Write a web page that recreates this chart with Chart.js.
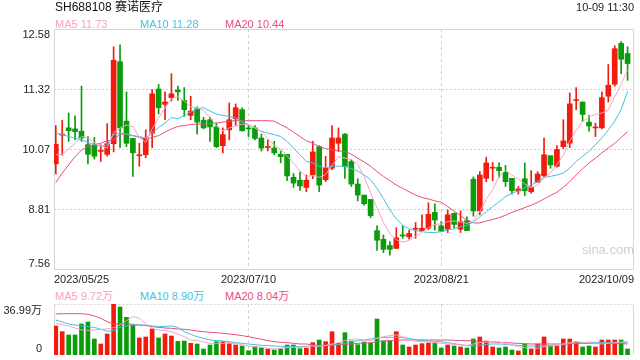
<!DOCTYPE html>
<html lang="zh">
<head>
<meta charset="UTF-8" />
<title>SH688108 赛诺医疗</title>
<script src="https://cdn.jsdelivr.net/npm/chart.js@4.4.0/dist/chart.umd.min.js"></script>
<style>
  body { margin: 0; width: 640px; height: 360px; background: #fff; position: relative; overflow: hidden;
         font-family: "Liberation Sans", Arial, "Noto Sans CJK SC", sans-serif; }
  .txt { position: absolute; white-space: nowrap; font-size: 11px; line-height: 12px; }
  canvas { position: absolute; left: 0; }
</style>
</head>
<body>
<canvas id="kChart" width="640" height="290" style="top:0"></canvas>
<canvas id="volChart" width="640" height="58" style="top:302px"></canvas>

<div class="txt" style="left:55px;top:0px;font-size:12px;line-height:14px;color:#111">SH688108 赛诺医疗</div>
<div class="txt" style="right:6px;top:1px;color:#222">10-09 11:30</div>
<div class="txt" id="lgMa5" style="left:55px;top:18px;color:#f8a2c0"></div>
<div class="txt" id="lgMa10" style="left:140px;top:18px;color:#41c2e2"></div>
<div class="txt" id="lgMa20" style="left:225px;top:18px;color:#e94c7e"></div>
<div class="txt" id="lgVma5" style="left:55px;top:290px;color:#f8a2c0"></div>
<div class="txt" id="lgVma10" style="left:140px;top:290px;color:#41c2e2"></div>
<div class="txt" id="lgVma20" style="left:225px;top:290px;color:#e94c7e"></div>
<div class="txt" style="left:582px;top:243px;font-size:13px;line-height:14px;color:#cfcfcf">sina.com</div>

<script>
// trading days 2023/05/25 .. 2023/10/09
const dates = [
  '2023/05/25','2023/05/26','2023/05/29','2023/05/30','2023/05/31',
  '2023/06/01','2023/06/02','2023/06/05','2023/06/06','2023/06/07','2023/06/08','2023/06/09',
  '2023/06/12','2023/06/13','2023/06/14','2023/06/15','2023/06/16','2023/06/19','2023/06/20',
  '2023/06/21','2023/06/26','2023/06/27','2023/06/28','2023/06/29','2023/06/30',
  '2023/07/03','2023/07/04','2023/07/05','2023/07/06','2023/07/07','2023/07/10','2023/07/11',
  '2023/07/12','2023/07/13','2023/07/14','2023/07/17','2023/07/18','2023/07/19','2023/07/20',
  '2023/07/21','2023/07/24','2023/07/25','2023/07/26','2023/07/27','2023/07/28','2023/07/31',
  '2023/08/01','2023/08/02','2023/08/03','2023/08/04','2023/08/07','2023/08/08','2023/08/09',
  '2023/08/10','2023/08/11','2023/08/14','2023/08/15','2023/08/16','2023/08/17','2023/08/18',
  '2023/08/21','2023/08/22','2023/08/23','2023/08/24','2023/08/25','2023/08/28','2023/08/29',
  '2023/08/30','2023/08/31','2023/09/01','2023/09/04','2023/09/05','2023/09/06','2023/09/07',
  '2023/09/08','2023/09/11','2023/09/12','2023/09/13','2023/09/14','2023/09/15','2023/09/18',
  '2023/09/19','2023/09/20','2023/09/21','2023/09/22','2023/09/25','2023/09/26','2023/09/27',
  '2023/09/28','2023/10/09'
];
const openP = [9.77,10.37,10.52,10.50,10.45,10.17,10.16,10.03,9.97,10.19,
  11.90,10.66,10.30,9.94,9.96,10.41,11.33,11.01,11.15,11.31,
  11.09,10.78,10.92,10.68,10.69,10.54,10.15,10.48,10.71,10.90,
  10.51,10.52,10.31,10.11,10.10,9.97,9.97,9.49,9.43,9.28,
  9.54,10.13,9.44,9.68,10.20,10.39,9.82,9.35,9.12,9.03,
  8.38,8.20,8.07,8.01,8.28,8.25,8.41,8.38,8.43,8.76,
  8.48,8.41,8.74,8.41,8.59,9.45,8.79,9.47,9.68,9.70,
  9.60,9.47,9.21,9.46,9.19,9.39,9.52,9.94,9.72,10.13,
  10.20,11.09,11.06,10.64,10.52,10.52,11.18,11.43,12.28,12.07];
const highP = [10.57,10.68,10.83,10.77,11.39,10.34,10.32,10.17,10.61,12.21,
  12.25,11.27,10.30,10.20,10.48,11.32,11.43,11.27,11.65,11.39,
  11.36,11.18,10.96,10.74,10.74,10.62,10.52,11.04,11.02,10.94,
  10.57,10.57,10.39,10.27,10.24,10.04,9.97,9.57,9.60,9.54,
  10.24,10.15,9.93,10.57,10.52,10.40,9.86,9.46,9.12,9.03,
  8.48,8.29,8.15,8.44,8.48,8.39,8.55,8.71,8.96,8.94,
  8.57,8.81,8.75,8.79,8.67,9.50,9.61,9.91,9.80,9.79,
  9.74,9.47,9.30,9.79,9.63,9.61,10.31,9.94,10.15,10.69,
  11.25,11.36,11.06,10.78,10.62,11.27,11.84,12.23,12.32,12.21];
const lowP = [9.56,9.95,10.24,10.27,10.24,9.77,9.87,9.82,9.93,10.02,
  10.11,10.13,9.51,9.72,9.90,10.11,10.81,10.69,11.08,11.09,
  10.76,10.69,10.39,10.50,10.24,10.11,10.00,10.27,10.57,10.45,
  10.34,10.27,10.04,10.04,9.96,9.79,9.42,9.28,9.22,9.19,
  9.46,9.19,9.40,9.65,10.03,9.47,9.30,9.00,8.91,8.65,
  7.97,7.92,7.87,8.01,8.22,8.20,8.22,8.38,8.40,8.39,
  8.36,8.34,8.44,8.34,8.38,8.68,8.71,9.40,9.42,9.49,
  9.30,9.14,9.14,9.11,9.16,9.39,9.51,9.68,9.70,10.09,
  10.11,10.90,10.66,10.45,10.34,10.50,11.06,11.39,11.65,11.51];
const closeP = [10.18,10.38,10.46,10.44,10.31,9.97,9.93,10.04,10.19,11.93,
  10.52,10.20,10.00,9.95,10.31,11.23,10.94,11.06,11.23,11.27,
  10.90,10.87,10.64,10.52,10.54,10.13,10.38,10.69,10.94,10.46,
  10.50,10.30,10.10,10.12,10.00,9.92,9.52,9.37,9.31,9.43,
  10.02,9.33,9.68,10.31,10.31,9.72,9.35,9.12,8.94,8.69,
  8.18,7.99,7.99,8.23,8.27,8.32,8.42,8.43,8.72,8.60,
  8.37,8.71,8.51,8.57,8.38,8.79,9.54,9.79,9.69,9.63,
  9.40,9.21,9.25,9.21,9.28,9.56,9.96,9.75,10.07,10.25,
  11.02,11.10,10.80,10.56,10.53,11.15,11.41,12.17,11.95,11.86];
const ma5 = [9.96,9.97,10.08,10.20,10.34,10.31,10.22,10.15,10.10,10.42,
  10.52,10.58,10.55,10.32,10.22,10.50,10.73,10.94,11.13,11.17,
  11.08,10.96,10.94,10.88,10.74,10.56,10.46,10.52,10.56,10.60,
  10.58,10.52,10.44,10.30,10.16,10.08,9.93,9.79,9.62,9.51,
  9.53,9.49,9.55,9.74,9.92,9.89,9.86,9.76,9.50,9.17,
  8.85,8.55,8.32,8.19,8.14,8.18,8.26,8.35,8.44,8.51,
  8.52,8.57,8.58,8.56,8.53,8.59,8.78,9.03,9.23,9.51,
  9.63,9.54,9.45,9.35,9.28,9.33,9.48,9.58,9.76,9.95,
  10.25,10.47,10.65,10.75,10.80,10.83,10.89,11.17,11.42,11.73];
const ma10 = [10.41,10.38,10.34,10.31,10.27,10.22,10.17,10.13,10.17,10.38,
  10.41,10.39,10.36,10.34,10.31,10.41,10.53,10.62,10.74,10.71,
  10.78,10.85,10.92,10.94,10.87,10.81,10.78,10.76,10.73,10.64,
  10.59,10.52,10.45,10.41,10.38,10.34,10.24,10.10,9.96,9.82,
  9.79,9.72,9.69,9.72,9.72,9.72,9.67,9.62,9.54,9.44,
  9.26,9.05,8.81,8.63,8.49,8.42,8.38,8.36,8.34,8.34,
  8.36,8.39,8.42,8.46,8.49,8.56,8.67,8.77,8.88,8.98,
  9.09,9.16,9.21,9.28,9.33,9.40,9.49,9.51,9.54,9.58,
  9.68,9.82,9.93,10.03,10.17,10.31,10.48,10.66,10.90,11.28];
const ma20 = [9.38,9.58,9.75,9.92,10.06,10.13,10.17,10.20,10.25,10.27,
  10.39,10.39,10.36,10.32,10.29,10.32,10.36,10.43,10.50,10.55,
  10.57,10.59,10.60,10.60,10.61,10.62,10.64,10.66,10.67,10.67,
  10.67,10.67,10.67,10.67,10.66,10.59,10.52,10.43,10.34,10.25,
  10.20,10.13,10.09,10.06,10.04,10.03,9.97,9.89,9.81,9.72,
  9.61,9.51,9.42,9.33,9.26,9.19,9.12,9.07,9.04,9.00,
  8.97,8.88,8.79,8.69,8.60,8.54,8.54,8.58,8.61,8.65,
  8.70,8.76,8.81,8.86,8.91,8.97,9.04,9.11,9.18,9.28,
  9.40,9.54,9.67,9.79,9.89,10.00,10.10,10.20,10.32,10.44];
// volume in 万
const vol = [21.03,16.92,14.51,14.51,22.48,23.93,11.60,7.98,15.23,36.99,
  34.81,27.32,21.76,12.33,13.06,18.86,12.33,15.23,13.78,9.91,
  10.15,8.46,7.98,4.35,7.25,9.67,9.67,8.70,7.25,6.53,
  3.14,6.04,5.32,4.35,3.63,4.59,7.25,7.25,4.59,5.08,
  8.95,10.88,9.67,16.92,8.46,16.20,10.15,7.49,9.43,8.46,
  26.11,10.15,10.15,16.92,7.25,5.80,7.25,8.22,8.70,8.70,
  5.08,7.25,6.53,5.80,5.08,11.60,13.06,10.15,5.80,5.08,
  5.80,3.63,2.90,7.98,4.35,7.98,13.06,6.53,6.53,11.60,
  11.60,9.43,5.80,6.53,5.80,10.88,10.88,10.88,10.88,4.35];
const vma5 = [22.97,22.00,21.04,19.59,18.14,17.89,18.14,18.62,18.90,19.80,
  21.80,24.91,27.81,26.60,22.49,19.34,18.14,17.65,16.93,15.23,
  13.30,10.88,10.40,9.43,8.46,8.46,8.46,8.46,8.46,7.50,
  6.53,6.05,5.56,4.84,4.35,4.84,5.32,5.56,5.56,6.05,
  6.53,6.29,7.01,7.98,8.95,10.40,11.36,11.61,10.88,10.40,
  12.09,13.30,14.02,14.51,13.30,10.88,10.16,9.67,9.43,8.95,
  8.46,7.98,7.74,7.25,7.01,7.98,8.95,9.43,9.67,9.43,
  8.46,7.25,6.05,5.32,5.08,4.84,6.05,6.53,7.25,7.98,
  8.95,9.67,9.19,8.95,8.46,7.98,8.46,8.95,9.43,9.72];
const vma10 = [25.39,23.94,22.49,21.76,21.04,20.55,20.07,18.62,17.17,17.65,
  20.07,21.04,21.76,21.76,21.76,21.04,20.55,20.79,21.04,20.07,
  16.93,14.99,13.30,12.09,10.88,10.40,10.16,9.67,8.95,8.46,
  7.98,7.50,7.01,6.77,6.53,6.29,6.05,6.05,6.05,6.29,
  6.53,6.53,6.77,7.25,7.74,8.46,9.67,10.40,10.88,11.61,
  12.33,12.82,12.82,12.82,12.57,12.09,11.12,10.40,10.16,9.91,
  9.67,8.95,8.22,7.50,6.77,6.53,7.01,7.74,7.98,7.98,
  7.74,7.25,7.01,6.77,6.53,6.53,6.77,7.01,7.25,7.74,
  8.22,8.70,8.95,9.19,9.19,9.19,9.19,8.90,8.90,8.90];
const vma20 = [29.74,29.98,29.98,29.98,29.98,29.50,28.29,26.60,24.18,22.49,
  22.49,22.73,22.25,21.76,21.28,20.55,20.07,19.59,19.34,18.86,
  18.62,18.14,17.41,16.93,16.44,16.20,15.72,15.23,14.75,14.02,
  13.30,12.33,11.36,10.40,9.67,9.19,8.95,8.46,7.98,7.98,
  7.25,7.01,7.01,7.25,7.50,7.74,7.98,8.46,8.70,8.95,
  9.67,10.16,10.40,10.88,10.88,10.88,10.88,10.88,10.88,10.88,
  10.88,10.88,10.64,10.40,10.40,10.16,9.91,9.67,9.43,9.19,
  8.95,8.70,8.46,8.22,7.98,7.98,7.98,7.98,7.98,7.98,
  8.22,8.22,8.46,8.46,8.46,8.46,8.46,8.22,8.22,8.04];

const yTicks = [7.56, 8.81, 10.07, 11.32, 12.58];
const yTickLabels = ['7.56', '8.81', '10.07', '11.32', '12.58'];
const vTicks = [0, 36.99];
const vTickLabels = ['0', '36.99万'];
const xTickIdx = [0, 30, 60, 89];

const RED = '#f11c0e', GREEN = '#0a9c0a';
const C5 = '#f8a2c0', C10 = '#41c2e2', C20 = '#e94c7e';
const GRID = '#d0d0d0', FRAME = '#d6d6d6', CLEAR = 'rgba(0,0,0,0)';
const FONT = { family: '"Liberation Sans", Arial, "Noto Sans CJK SC", sans-serif', size: 11 };
const X_MIN = -0.28, X_MAX = 90;

const idx = dates.map((d, i) => i);
const candleColor = idx.map(i => closeP[i] >= openP[i] ? RED : GREEN);
const last = a => a[a.length - 1].toFixed(2);

document.getElementById('lgMa5').textContent = 'MA5 ' + last(ma5);
document.getElementById('lgMa10').textContent = 'MA10 ' + last(ma10);
document.getElementById('lgMa20').textContent = 'MA20 ' + last(ma20);
document.getElementById('lgVma5').textContent = 'MA5 ' + last(vma5) + '万';
document.getElementById('lgVma10').textContent = 'MA10 ' + last(vma10) + '万';
document.getElementById('lgVma20').textContent = 'MA20 ' + last(vma20) + '万';

// plot frame around the chart area
const framePlugin = {
  id: 'frame',
  beforeDatasetsDraw(chart, args, opts) {
    const ctx = chart.ctx, a = chart.chartArea;
    const L = Math.round(a.left) + 0.5, R = Math.round(a.right) - 0.5;
    const T = Math.round(a.top) + 0.5, B = Math.round(a.bottom) - 0.5;
    const seg = { top: [L, T, R, T], bottom: [L, B, R, B], left: [L, T, L, B], right: [R, T, R, B] };
    ctx.save();
    ctx.strokeStyle = opts.color;
    ctx.lineWidth = 1;
    (opts.solid || []).concat(opts.dotted || []).forEach(side => {
      ctx.setLineDash((opts.dotted || []).includes(side) ? [2, 2] : []);
      const s = seg[side];
      ctx.beginPath(); ctx.moveTo(s[0], s[1]); ctx.lineTo(s[2], s[3]); ctx.stroke();
    });
    ctx.restore();
  }
};

function maLine(label, values, color) {
  return { type: 'line', label: label, data: idx.map(i => ({ x: i, y: values[i] })),
           borderColor: color, borderWidth: 1, pointRadius: 0, tension: 0, order: 0 };
}

const xGridColor = c => (c.index === 1 || c.index === 2) ? GRID : CLEAR;
const fixYWidth = s => { s.width = 54; s.paddingTop = 0; s.paddingBottom = 0; };

new Chart(document.getElementById('kChart'), {
  type: 'bar',
  data: {
    datasets: [
      maLine('MA5', ma5, C5),
      maLine('MA10', ma10, C10),
      maLine('MA20', ma20, C20),
      { label: 'body', data: idx.map(i => ({ x: i, y: [openP[i], closeP[i]] })),
        backgroundColor: candleColor, barThickness: 5, minBarLength: 1, grouped: false, order: 1 },
      { label: 'wick', data: idx.map(i => ({ x: i, y: [lowP[i], highP[i]] })),
        backgroundColor: candleColor, barThickness: 1, grouped: false, order: 2 }
    ]
  },
  options: {
    responsive: false,
    animation: false,
    layout: { padding: { top: 29, right: 6, left: 0, bottom: 0 } },
    plugins: {
      legend: { display: false },
      tooltip: { enabled: false },
      frame: { color: FRAME, solid: ['top', 'right', 'bottom', 'left'] }
    },
    scales: {
      x: {
        type: 'linear', min: X_MIN, max: X_MAX, offset: false,
        afterBuildTicks: s => {
          s.ticks = xTickIdx.map((v, k) => ({ value: k === 0 ? s.min : (k === xTickIdx.length - 1 ? s.max : v) }));
        },
        afterFit: s => { s.height = 20; },
        ticks: { autoSkip: false, maxRotation: 0, align: 'inner', padding: 3, font: FONT, color: '#222',
                 callback: (v, k) => dates[xTickIdx[k]] },
        grid: { offset: false, drawTicks: false, color: xGridColor },
        border: { display: false, dash: [3, 3] }
      },
      y: {
        min: yTicks[0], max: yTicks[yTicks.length - 1],
        afterBuildTicks: s => {
          const n = yTicks.length - 1;
          s.ticks = yTicks.map((v, k) => ({ value: k === 0 ? v + 0.13 : (k === n ? v - 0.115 : v) }));
        },
        afterFit: fixYWidth,
        ticks: { autoSkip: false, padding: 4, font: FONT, color: '#222', callback: (v, k) => yTickLabels[k] },
        grid: { drawTicks: false, color: c => (c.index === 0 || c.index === yTicks.length - 1) ? CLEAR : GRID },
        border: { display: false, dash: [2, 2] }
      }
    }
  },
  plugins: [framePlugin]
});

new Chart(document.getElementById('volChart'), {
  type: 'bar',
  data: {
    datasets: [
      maLine('MA5', vma5, C5),
      maLine('MA10', vma10, C10),
      maLine('MA20', vma20, C20),
      { label: 'vol', data: idx.map(i => ({ x: i, y: vol[i] })),
        backgroundColor: candleColor, barThickness: 4, grouped: false, order: 1 }
    ]
  },
  options: {
    responsive: false,
    animation: false,
    layout: { padding: { top: 2, right: 6, left: 0, bottom: 5 } },
    plugins: {
      legend: { display: false },
      tooltip: { enabled: false },
      frame: { color: FRAME, solid: ['left', 'right'], dotted: ['top'] }
    },
    scales: {
      x: {
        type: 'linear', min: X_MIN, max: X_MAX, offset: false,
        afterBuildTicks: s => { s.ticks = xTickIdx.map(v => ({ value: v })); },
        afterFit: s => { s.height = 0; s.paddingLeft = 0; s.paddingRight = 0; },
        ticks: { display: false },
        grid: { offset: false, drawTicks: false, color: xGridColor },
        border: { display: false, dash: [3, 3] }
      },
      y: {
        min: vTicks[0], max: vTicks[1],
        afterBuildTicks: s => { s.ticks = [{ value: vTicks[0] + 4.4 }, { value: vTicks[1] - 5.0 }]; },
        afterFit: fixYWidth,
        ticks: { autoSkip: false, padding: 4, font: FONT, color: '#222', callback: (v, k) => vTickLabels[k] },
        grid: { display: false },
        border: { display: false }
      }
    }
  },
  plugins: [framePlugin]
});
</script>
</body>
</html>
